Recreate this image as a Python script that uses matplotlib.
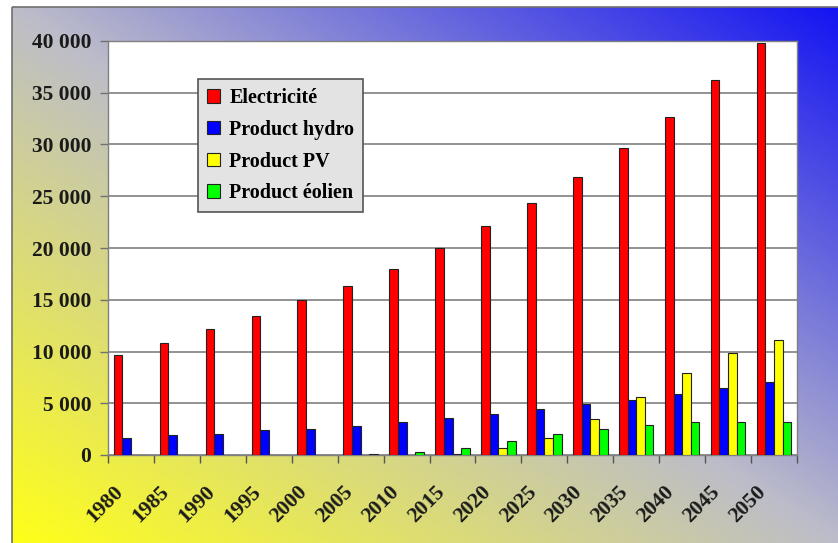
import numpy as np
import matplotlib
matplotlib.use("Agg")
import matplotlib.pyplot as plt
from matplotlib.patches import Rectangle
from matplotlib.colors import LinearSegmentedColormap
import matplotlib.transforms as mtransforms

years = ["1980", "1985", "1990", "1995", "2000", "2005", "2010", "2015",
         "2020", "2025", "2030", "2035", "2040", "2045", "2050"]
electricite = [9700, 10800, 12200, 13400, 15000, 16300, 18000, 20000,
               22100, 24300, 26900, 29700, 32700, 36200, 39800]
hydro = [1650, 1900, 2050, 2400, 2550, 2850, 3200, 3550,
         4000, 4400, 4900, 5350, 5900, 6500, 7100]
pv = [0, 0, 0, 0, 0, 0, 0, 100, 650, 1650, 3500, 5600, 7950, 9900, 11100]
eolien = [0, 0, 0, 0, 0, 100, 300, 700, 1400, 2000, 2550, 2900, 3200, 3200, 3200]
series_names = ["Electricité", "Product hydro", "Product PV", "Product éolien"]
series_colors = ["#ff0000", "#0000ff", "#ffff00", "#00ff00"]
yticks = [0, 5000, 10000, 15000, 20000, 25000, 30000, 35000, 40000]

W, H = 838, 543
fig = plt.figure(figsize=(W / 100, H / 100), dpi=100)
fig.patch.set_facecolor("white")

# Background gradient (frame from x=12, y=7)
bg = fig.add_axes([0, 0, 1, 1], zorder=0)
bg.set_xlim(0, W)
bg.set_ylim(H, 0)
bg.axis("off")
nx, ny = 300, 200
xs = np.linspace(0, 1, nx)
ys = np.linspace(0, 1, ny)
X, Y = np.meshgrid(xs, ys)
T = (X + (1 - Y)) / 2.0
cmap = LinearSegmentedColormap.from_list(
    "bg", [(0.0, (1.0, 1.0, 0.1)), (0.5, (0.74, 0.74, 0.79)), (1.0, (0.08, 0.08, 0.95))])
bg.imshow(T, cmap=cmap, extent=(12, W, H, 7), aspect="auto", vmin=0, vmax=1,
          interpolation="bilinear")
bg.add_patch(Rectangle((12, 7), W - 12 + 5, H - 7 + 5, fill=False,
                       edgecolor="#707070", lw=1.2))

ax = fig.add_axes([108 / W, (H - 455) / H, (797 - 108) / W, (455 - 41) / H], zorder=1)
ax.set_facecolor("white")

n = len(years)
x = np.arange(n)
w = 0.1875
vals = [electricite, hydro, pv, eolien]
for i, (v, c, name) in enumerate(zip(vals, series_colors, series_names)):
    ax.bar(x + (i - 1.5) * w, v, width=w, color=c, edgecolor="#222222",
           linewidth=0.8, label=name, zorder=3)

ax.set_xlim(-0.5, n - 0.5)
ax.set_ylim(0, 40000)
ax.set_yticks(yticks)
ax.set_yticklabels([f"{v:,}".replace(",", " ") for v in yticks],
                   fontfamily="Liberation Serif", fontweight="bold", fontsize=15.5,
                   color="#1a1a1a")
ax.yaxis.grid(True, color="#808080", lw=1.2, zorder=0)
ax.tick_params(axis="y", length=6, width=1, color="#707070", pad=6)

ax.set_xticks(np.arange(n + 1) - 0.5)
ax.set_xticklabels([])
ax.tick_params(axis="x", length=6, width=1, color="#555555")

offset = mtransforms.ScaledTranslation(-0.18, -0.27, fig.dpi_scale_trans)
trans = mtransforms.blended_transform_factory(ax.transData, ax.transAxes) + offset
for xi, lab in zip(x, years):
    ax.text(xi, 0, lab, transform=trans, rotation=45, rotation_mode="anchor",
            ha="right", va="top", fontfamily="Liberation Serif",
            fontweight="bold", fontsize=15.5, color="#1a1a1a")

for side in ["left", "bottom", "top", "right"]:
    ax.spines[side].set_color("#808080")
    ax.spines[side].set_linewidth(1.0)

leg = ax.legend(loc="upper left", bbox_to_anchor=(0.1306, 0.908),
                prop={"family": "Liberation Serif", "weight": "bold", "size": 14.5},
                frameon=True, fancybox=False, facecolor="#e3e3e3",
                edgecolor="#555555", framealpha=1, handlelength=0.65,
                handleheight=0.65, handletextpad=0.45, labelspacing=0.58,
                borderpad=0.45, borderaxespad=0)
leg.get_frame().set_linewidth(1.2)

fig.savefig("out.png", dpi=100)
